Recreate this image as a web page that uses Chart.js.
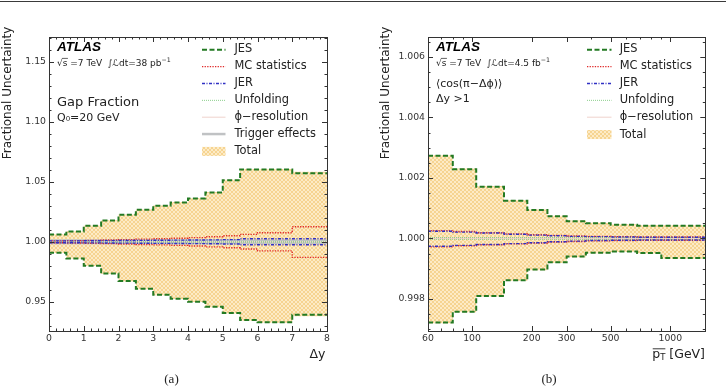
<!DOCTYPE html>
<html><head><meta charset="utf-8">
<script src="https://cdn.jsdelivr.net/npm/chart.js@4.4.1/dist/chart.umd.min.js"></script>
<style>
html,body{margin:0;padding:0;background:#fff;width:726px;height:392px;overflow:hidden;}
#topline{position:absolute;left:0;top:1px;width:726px;height:1px;background:#3a3a3a;}
.wrap{position:absolute;top:0;width:363px;height:392px;}
#wa{left:0}#wb{left:363px}
canvas{display:block}
</style></head><body>
<div id="topline"></div>
<div class="wrap" id="wa"><canvas id="ca" width="363" height="392"></canvas></div>
<div class="wrap" id="wb"><canvas id="cb" width="363" height="392"></canvas></div>
<script>
// ---------------- DATA : panel (a) gap fraction vs Δy ----------------
const dyEdges = [0,0.5,1,1.5,2,2.5,3,3.5,4,4.5,5,5.5,6,6.5,7,7.5,8];
const jesUpA  = [1.0061,1.0086,1.0133,1.0178,1.0225,1.0267,1.0300,1.0328,1.0362,1.0411,1.0514,1.0603,1.0603,1.0603,1.0572,1.0572];
const jesDnA  = [0.9908,0.9861,0.9800,0.9736,0.9672,0.9608,0.9558,0.9525,0.9500,0.9458,0.9406,0.9347,0.9330,0.9330,0.9392,0.9392];
const mcUpA   = [1.0008,1.0010,1.0012,1.0015,1.0018,1.0022,1.0026,1.0030,1.0035,1.0042,1.0050,1.0062,1.0076,1.0076,1.0126,1.0126];
const mcDnA   = [0.9992,0.9990,0.9988,0.9985,0.9982,0.9978,0.9974,0.9970,0.9965,0.9958,0.9950,0.9940,0.9924,0.9924,0.9870,0.9870];
const jerUpA  = [1.0008,1.0008,1.0009,1.0010,1.0011,1.0012,1.0013,1.0014,1.0015,1.0016,1.0018,1.0025,1.0025,1.0025,1.0025,1.0025];
const jerDnA  = [0.9992,0.9992,0.9991,0.9990,0.9989,0.9988,0.9987,0.9986,0.9985,0.9984,0.9982,0.9975,0.9975,0.9975,0.9975,0.9975];
const unfUpA  = [1.0004,1.0004,1.0004,1.0004,1.0004,1.0004,1.0004,1.0004,1.0004,1.0004,1.0004,1.0004,1.0004,1.0004,1.0004,1.0004];
const unfDnA  = [0.9996,0.9996,0.9996,0.9996,0.9996,0.9996,0.9996,0.9996,0.9996,0.9996,0.9996,0.9996,0.9996,0.9996,0.9996,0.9996];
const phiUpA  = [1.0002,1.0002,1.0002,1.0002,1.0002,1.0002,1.0002,1.0002,1.0002,1.0002,1.0002,1.0002,1.0002,1.0002,1.0002,1.0002];
const phiDnA  = [0.9998,0.9998,0.9998,0.9998,0.9998,0.9998,0.9998,0.9998,0.9998,0.9998,0.9998,0.9998,0.9998,0.9998,0.9998,0.9998];
const trgUpA  = [1.0010,1.0010,1.0010,1.0010,1.0010,1.0010,1.0010,1.0010,1.0010,1.0010,1.0010,1.0008,1.0008,1.0008,1.0008,1.0008];
const trgDnA  = [0.9990,0.9990,0.9990,0.9990,0.9990,0.9990,0.9990,0.9990,0.9990,0.9990,0.9990,0.9992,0.9992,0.9992,0.9992,0.9992];
const totUpA  = [1.0063,1.0088,1.0135,1.0180,1.0228,1.0270,1.0303,1.0331,1.0365,1.0415,1.0518,1.0608,1.0608,1.0608,1.0585,1.0585];
const totDnA  = [0.9906,0.9859,0.9798,0.9733,0.9669,0.9605,0.9555,0.9522,0.9497,0.9455,0.9402,0.9342,0.9324,0.9324,0.9380,0.9380];
const dyTicks = [0,1,2,3,4,5,6,7,8];
const dyTickLabels = ['0','1','2','3','4','5','6','7','8'];
const yTicksA = [0.95,1.00,1.05,1.10,1.15];
const yTickLabelsA = ['0.95','1.00','1.05','1.10','1.15'];
const namesA = ['JES','MC statistics','JER','Unfolding','\u03d5\u2212resolution','Trigger effects','Total'];

// ---------------- DATA : panel (b) <cos(pi-dphi)> vs pT ----------------
const ptEdges = [60,80,105,145,190,240,300,375,500,680,900,1500];
const jesUpB  = [1.00273,1.00229,1.00171,1.00125,1.00094,1.00073,1.00057,1.00050,1.00045,1.00042,1.00042];
const jesDnB  = [0.99722,0.99758,0.99810,0.99862,0.99897,0.99921,0.99940,0.99953,0.99957,0.99952,0.99935];
const mcUpB   = [1.00026,1.00023,1.00019,1.00015,1.00012,1.00010,1.00008,1.00007,1.00006,1.00005,1.00005];
const mcDnB   = [0.99972,0.99976,0.99979,0.99982,0.99985,0.99988,0.99990,0.99992,0.99993,0.99994,0.99994];
const jerUpB  = [1.00024,1.00021,1.00018,1.00014,1.00011,1.00009,1.00007,1.00006,1.00005,1.00004,1.00004];
const jerDnB  = [0.99974,0.99977,0.99980,0.99983,0.99986,0.99989,0.99991,0.99993,0.99994,0.99995,0.99995];
const unfUpB  = [1.00003,1.00003,1.00003,1.00003,1.00003,1.00003,1.00003,1.00003,1.00003,1.00003,1.00003];
const unfDnB  = [0.99997,0.99997,0.99997,0.99997,0.99997,0.99997,0.99997,0.99997,0.99997,0.99997,0.99997];
const phiUpB  = [1.00001,1.00001,1.00001,1.00001,1.00001,1.00001,1.00001,1.00001,1.00001,1.00001,1.00001];
const phiDnB  = [0.99999,0.99999,0.99999,0.99999,0.99999,0.99999,0.99999,0.99999,0.99999,0.99999,0.99999];
const totUpB  = [1.00275,1.00231,1.00173,1.00127,1.00096,1.00075,1.00059,1.00052,1.00047,1.00044,1.00044];
const totDnB  = [0.99720,0.99756,0.99808,0.99860,0.99895,0.99919,0.99938,0.99951,0.99955,0.99950,0.99933];
const ptTicks = [60,100,200,300,500,1000];
const ptTickLabels = ['60','100','200','300','500','1000'];
const yTicksB = [0.998,1.000,1.002,1.004,1.006];
const yTickLabelsB = ['0.998','1.000','1.002','1.004','1.006'];
const namesB = ['JES','MC statistics','JER','Unfolding','\u03d5\u2212resolution','Total'];

// ---------------- STYLES ----------------
const FONT = '"DejaVu Sans"';
Chart.defaults.font.family = FONT;
const ST = {
  jes:{color:'#237a23', width:2, dash:[5,2.5]},
  mc:{color:'#e02a2a', width:1.4, dash:[1.3,1.3]},
  jer:{color:'#3030c4', width:1.4, dash:[3,1.5,1,1.5]},
  unf:{color:'#8ccf8c', width:1, dash:[1,1]},
  phi:{color:'#efd2cc', width:1, dash:[]},
  trg:{color:'#c0c2c4', width:2.5, dash:[]}
};

function makePattern(ctx){
  const c=document.createElement('canvas'); c.width=4; c.height=4;
  const g=c.getContext('2d');
  g.fillStyle='#fdebc6'; g.fillRect(0,0,4,4);
  g.strokeStyle='rgba(242,196,110,0.6)'; g.lineWidth=1;
  g.beginPath(); g.moveTo(0,0); g.lineTo(4,4); g.moveTo(4,0); g.lineTo(0,4); g.stroke();
  return ctx.createPattern(c,'repeat');
}
function stepPts(edges, vals){
  const p = vals.map((v,i)=>({x:edges[i], y:v}));
  p.push({x:edges[edges.length-1], y:vals[vals.length-1]});
  return p;
}
function lineDs(edges, vals, st){
  return {data:stepPts(edges,vals), stepped:true, borderColor:st.color, borderWidth:st.width,
          borderDash:st.dash, pointRadius:0, fill:false, tension:0, borderCapStyle:'butt'};
}
function bandDs(edges, up, dn, pat){
  return [
    {data:stepPts(edges,up), stepped:true, borderColor:'rgba(0,0,0,0)', borderWidth:1, pointRadius:0, fill:'+1', backgroundColor:pat},
    {data:stepPts(edges,dn), stepped:true, borderColor:'rgba(0,0,0,0)', borderWidth:1, pointRadius:0, fill:false}
  ];
}
function rich(ctx, x, y, parts, draw){
  let x0 = x;
  for (const p of parts){
    ctx.font = (p.f||'') + ' ' + p.s + 'px ' + (p.fam||FONT);
    if (draw!==false) ctx.fillText(p.t, x0, y + (p.dy||0));
    x0 += ctx.measureText(p.t).width;
  }
  return x0;
}
function drawTicksFrame(chart, xMinor, yMinor){
  const {ctx, chartArea:{left,right,top,bottom}, scales:{x,y}} = chart;
  ctx.save(); ctx.strokeStyle='#333'; ctx.lineWidth=1; ctx.setLineDash([]);
  ctx.beginPath();
  const xt=(v,L)=>{const p=Math.round(x.getPixelForValue(v))+0.5; ctx.moveTo(p,bottom); ctx.lineTo(p,bottom-L); ctx.moveTo(p,top); ctx.lineTo(p,top+L);};
  const yt=(v,L)=>{const p=Math.round(y.getPixelForValue(v))+0.5; ctx.moveTo(left,p); ctx.lineTo(left+L,p); ctx.moveTo(right,p); ctx.lineTo(right-L,p);};
  x.ticks.forEach(t=>xt(t.value,5)); xMinor.forEach(v=>xt(v,2.5));
  y.ticks.forEach(t=>yt(t.value,5)); yMinor.forEach(v=>yt(v,2.5));
  ctx.stroke();
  ctx.strokeStyle='#333';
  ctx.strokeRect(Math.round(left)+0.5, Math.round(top)+0.5, Math.round(right-left), Math.round(bottom-top));
  ctx.restore();
}
function drawLegend(ctx, names, styles, pat, x0, x1, tx, y0, dy){
  ctx.save();
  ctx.textBaseline='middle'; ctx.textAlign='left'; ctx.fillStyle='#222';
  ctx.font='11.4px '+FONT;
  names.forEach((n,i)=>{
    const yy = y0 + i*dy + (i===names.length-1 ? 1 : 0);
    const st = styles[i];
    if (st==='band'){
      ctx.fillStyle=pat; ctx.fillRect(x0, yy-4.5, x1-x0, 9);
    } else {
      ctx.strokeStyle=st.color; ctx.lineWidth=st.width; ctx.setLineDash(st.dash);
      ctx.beginPath(); ctx.moveTo(x0, yy+0.5); ctx.lineTo(x1, yy+0.5); ctx.stroke();
    }
    ctx.fillStyle='#222';
    ctx.fillText(n, tx, yy);
  });
  ctx.restore();
}
function drawYLabel(ctx, x, yTop){
  ctx.save(); ctx.translate(x, yTop); ctx.rotate(-Math.PI/2);
  ctx.textAlign='right'; ctx.textBaseline='middle'; ctx.fillStyle='#222';
  ctx.font='12px '+FONT; ctx.fillText('Fractional Uncertainty', 0, 0);
  ctx.restore();
}
function drawEnergy(ctx, x, y, lumi, unit){
  ctx.save(); ctx.fillStyle='#222'; ctx.textAlign='left'; ctx.textBaseline='alphabetic';
  let xa = rich(ctx, x, y, [{t:'\u221a', s:9}]);
  let xb = rich(ctx, xa, y, [{t:'s', s:9}]);
  ctx.strokeStyle='#222'; ctx.lineWidth=0.7; ctx.beginPath(); ctx.moveTo(xa-0.5, y-7.3); ctx.lineTo(xb+0.5, y-7.3); ctx.stroke();
  let xc = rich(ctx, xb, y, [{t:' =7 TeV  \u222b\u2112dt='+lumi+' '+unit, s:9}]);
  rich(ctx, xc, y, [{t:'\u22121', s:6.3, dy:-4}]);
  ctx.restore();
}
function drawAtlas(ctx, x, y){
  ctx.save(); ctx.fillStyle='#000'; ctx.textAlign='left'; ctx.textBaseline='alphabetic';
  ctx.font='italic bold 13.5px "Liberation Sans"'; ctx.fillText('ATLAS', x, y);
  ctx.restore();
}
function drawCaption(ctx, x, y, t){
  ctx.save(); ctx.fillStyle='#222'; ctx.textAlign='center'; ctx.textBaseline='alphabetic';
  ctx.font='13px "Liberation Serif"'; ctx.fillText(t, x, y); ctx.restore();
}

// ---------------- CHART (a) ----------------
const ctxA = document.getElementById('ca').getContext('2d');
const patA = makePattern(ctxA);
const dsA = [
  lineDs(dyEdges, jesUpA, ST.jes), lineDs(dyEdges, jesDnA, ST.jes),
  lineDs(dyEdges, jerUpA, ST.jer), lineDs(dyEdges, jerDnA, ST.jer),
  lineDs(dyEdges, mcUpA, ST.mc), lineDs(dyEdges, mcDnA, ST.mc),
  lineDs(dyEdges, unfUpA, ST.unf), lineDs(dyEdges, unfDnA, ST.unf),
  lineDs(dyEdges, phiUpA, ST.phi), lineDs(dyEdges, phiDnA, ST.phi),
  lineDs(dyEdges, trgUpA, ST.trg), lineDs(dyEdges, trgDnA, ST.trg),
  ...bandDs(dyEdges, totUpA, totDnA, patA)
];
const minorRange=(a,b,s,maj)=>{const r=[];for(let v=a;v<=b+1e-12;v+=s){const q=Math.round(v/s)*s; if(!maj.some(m=>Math.abs(m-q)<s*1e-3)) r.push(q);}return r;};
const decorA = {
  id:'decorA',
  afterDraw(chart){
    const ctx=chart.ctx;
    drawTicksFrame(chart, minorRange(0,8,0.2,dyTicks), minorRange(0.93,1.17,0.01,yTicksA));
    drawLegend(ctx, namesA, [ST.jes,ST.mc,ST.jer,ST.unf,ST.phi,ST.trg,'band'], patA, 202, 225.5, 234.5, 49.3, 16.85);
    drawAtlas(ctx, 57, 50.7);
    drawEnergy(ctx, 57, 65.7, '38', 'pb');
    ctx.save(); ctx.fillStyle='#222'; ctx.textAlign='left';
    ctx.font='13px '+FONT; ctx.fillText('Gap Fraction', 57, 106);
    ctx.font='11px '+FONT; ctx.fillText('Q\u2080=20 GeV', 57, 120.5);
    ctx.font='12.5px '+FONT; ctx.textAlign='right'; ctx.fillText('\u0394y', 325.5, 357.7);
    ctx.restore();
    drawYLabel(ctx, 7.5, 26.7);
    drawCaption(ctx, 171.5, 382.5, '(a)');
  }
};
new Chart(ctxA, {
  type:'line',
  data:{datasets:dsA},
  options:{
    responsive:false, animation:false, events:[],
    layout:{padding:{left:0, top:37, right:36, bottom:31}},
    plugins:{legend:{display:false}, tooltip:{enabled:false}},
    scales:{
      x:{type:'linear', min:0, max:8,
         grid:{display:false, drawTicks:false}, border:{display:false},
         ticks:{padding:2, color:'#333', font:{size:9.3}, autoSkip:false, maxRotation:0, callback:(v,i)=>dyTickLabels[i]},
         afterBuildTicks:(s)=>{s.ticks = dyTicks.map(v=>({value:v}));},
         afterFit:(s)=>{s.height=30;}},
      y:{type:'linear', min:0.9256, max:1.1708,
         grid:{display:false, drawTicks:false}, border:{display:false},
         ticks:{padding:3, color:'#333', font:{size:9.3}, autoSkip:false, callback:(v,i)=>yTickLabelsA[i]},
         afterBuildTicks:(s)=>{s.ticks = yTicksA.map(v=>({value:v}));},
         afterFit:(s)=>{s.width=49;}}
    }
  },
  plugins:[decorA]
});

// ---------------- CHART (b) ----------------
const ctxB = document.getElementById('cb').getContext('2d');
const patB = makePattern(ctxB);
const dsB = [
  lineDs(ptEdges, jesUpB, ST.jes), lineDs(ptEdges, jesDnB, ST.jes),
  lineDs(ptEdges, jerUpB, ST.jer), lineDs(ptEdges, jerDnB, ST.jer),
  lineDs(ptEdges, mcUpB, ST.mc), lineDs(ptEdges, mcDnB, ST.mc),
  lineDs(ptEdges, unfUpB, ST.unf), lineDs(ptEdges, unfDnB, ST.unf),
  lineDs(ptEdges, phiUpB, ST.phi), lineDs(ptEdges, phiDnB, ST.phi),
  ...bandDs(ptEdges, totUpB, totDnB, patB)
];
const logMinor = [70,80,90,400,600,700,800,900];
const decorB = {
  id:'decorB',
  afterDraw(chart){
    const ctx=chart.ctx;
    drawTicksFrame(chart, logMinor, minorRange(0.997,1.0065,0.0005,yTicksB));
    drawLegend(ctx, namesB, [ST.jes,ST.mc,ST.jer,ST.unf,ST.phi,'band'], patB, 224, 248.5, 256.7, 49.3, 16.85);
    drawAtlas(ctx, 73, 50.7);
    drawEnergy(ctx, 73, 65.7, '4.5', 'fb');
    ctx.save(); ctx.fillStyle='#222'; ctx.textAlign='left';
    ctx.font='11px '+FONT; ctx.fillText('\u27e8cos(\u03c0\u2212\u0394\u03d5)\u27e9', 73, 87);
    ctx.fillText('\u0394y >1', 73, 102);
    const parts=[{t:'p',s:12.5},{t:'T',s:8.5,dy:2.5},{t:' [GeV]',s:12.5}];
    const w = rich(ctx, 0, 0, parts, false);
    const x0 = 342 - w;
    const xp = rich(ctx, x0, 357.7, parts.slice(0,2), false);
    rich(ctx, x0, 357.7, parts);
    ctx.strokeStyle='#222'; ctx.lineWidth=0.9; ctx.beginPath(); ctx.moveTo(x0+0.5, 348.8); ctx.lineTo(xp, 348.8); ctx.stroke();
    ctx.restore();
    drawYLabel(ctx, 22.5, 26.7);
    drawCaption(ctx, 186, 382.5, '(b)');
  }
};
new Chart(ctxB, {
  type:'line',
  data:{datasets:dsB},
  options:{
    responsive:false, animation:false, events:[],
    layout:{padding:{left:0, top:37, right:20.7, bottom:31}},
    plugins:{legend:{display:false}, tooltip:{enabled:false}},
    scales:{
      x:{type:'logarithmic', min:60, max:1500,
         grid:{display:false, drawTicks:false}, border:{display:false},
         ticks:{padding:2, color:'#333', font:{size:9.3}, autoSkip:false, maxRotation:0, callback:(v,i)=>ptTickLabels[i]},
         afterBuildTicks:(s)=>{s.ticks = ptTicks.map(v=>({value:v}));},
         afterFit:(s)=>{s.height=30;}},
      y:{type:'linear', min:0.99694, max:1.00666,
         grid:{display:false, drawTicks:false}, border:{display:false},
         ticks:{padding:3, color:'#333', font:{size:9.3}, autoSkip:false, callback:(v,i)=>yTickLabelsB[i]},
         afterBuildTicks:(s)=>{s.ticks = yTicksB.map(v=>({value:v}));},
         afterFit:(s)=>{s.width=65;}}
    }
  },
  plugins:[decorB]
});
</script>
</body></html>
